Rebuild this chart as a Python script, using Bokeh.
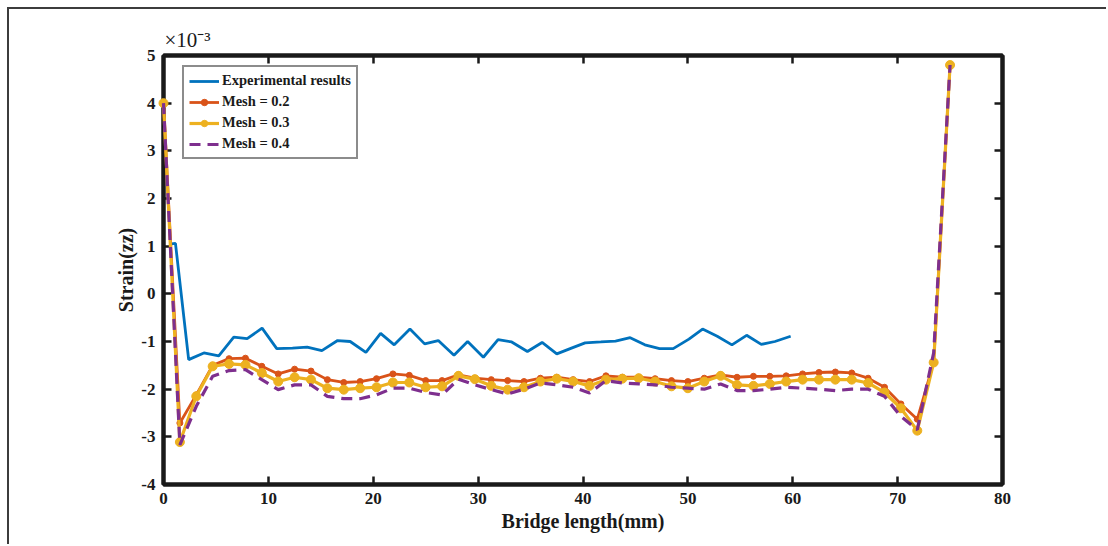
from bokeh.plotting import figure
from bokeh.models import (Range1d, LinearAxis, Legend, LegendItem,
                          SingleIntervalTicker, PrintfTickFormatter,
                          CustomJSTickFormatter)
from bokeh.embed import file_html
from bokeh.resources import INLINE

# ---- data (strain in units of 1e-3) ----
exp_x = [0.75, 1.14, 2.4, 3.85, 5.27, 6.7, 7.98, 9.4, 10.8, 12.3, 13.7,
         15.1, 16.6, 17.8, 19.3, 20.7, 22.0, 23.5, 24.9, 26.2, 27.7,
         29.0, 30.5, 31.9, 33.2, 34.7, 36.1, 37.5, 38.9, 40.2, 41.7,
         43.1, 44.5, 45.9, 47.3, 48.6, 50.1, 51.4, 52.8, 54.2, 55.6,
         57.0, 58.3, 59.8]
exp_y = [1.05, 1.06, -1.38, -1.24, -1.30, -0.91, -0.94, -0.72, -1.15, -1.14, -1.12,
         -1.19, -0.98, -1.00, -1.23, -0.83, -1.07, -0.74, -1.05, -0.98, -1.29,
         -1.00, -1.33, -0.96, -1.01, -1.21, -1.02, -1.26, -1.14, -1.03, -1.01,
         -0.99, -0.92, -1.07, -1.15, -1.15, -0.95, -0.74, -0.89, -1.07, -0.87,
         -1.06, -1.00, -0.89]

mesh_x = [0.0, 1.5625, 3.125, 4.6875, 6.25, 7.8125, 9.375, 10.9375, 12.5,
          14.0625, 15.625, 17.1875, 18.75, 20.3125, 21.875, 23.4375, 25.0,
          26.5625, 28.125, 29.6875, 31.25, 32.8125, 34.375, 35.9375, 37.5,
          39.0625, 40.625, 42.1875, 43.75, 45.3125, 46.875, 48.4375, 50.0,
          51.5625, 53.125, 54.6875, 56.25, 57.8125, 59.375, 60.9375, 62.5,
          64.0625, 65.625, 67.1875, 68.75, 70.3125, 71.875, 73.4375, 75.0]

mesh02_y = [4.00, -2.71, -2.12, -1.50, -1.36, -1.35, -1.52, -1.68, -1.58,
            -1.62, -1.80, -1.86, -1.84, -1.78, -1.68, -1.71, -1.82,
            -1.82, -1.70, -1.77, -1.80, -1.82, -1.84, -1.77, -1.75,
            -1.80, -1.84, -1.72, -1.75, -1.75, -1.78, -1.82, -1.84,
            -1.77, -1.70, -1.75, -1.73, -1.73, -1.72, -1.68, -1.65,
            -1.64, -1.66, -1.77, -1.96, -2.31, -2.63, -1.44, 4.80]

mesh03_y = [4.00, -3.11, -2.15, -1.52, -1.47, -1.49, -1.66, -1.84, -1.75,
            -1.80, -1.98, -2.01, -1.98, -1.96, -1.86, -1.86, -1.96,
            -1.94, -1.72, -1.79, -1.93, -2.01, -1.96, -1.84, -1.78,
            -1.84, -1.93, -1.80, -1.78, -1.77, -1.84, -1.94, -1.98,
            -1.84, -1.72, -1.91, -1.93, -1.89, -1.84, -1.80, -1.80,
            -1.80, -1.80, -1.87, -2.07, -2.40, -2.87, -1.44, 4.80]

mesh04_y = [4.00, -3.17, -2.36, -1.73, -1.61, -1.59, -1.80, -2.01, -1.91,
            -1.91, -2.15, -2.20, -2.20, -2.12, -1.98, -1.98, -2.07,
            -2.12, -1.79, -1.91, -2.01, -2.10, -2.00, -1.87, -1.91,
            -1.96, -2.08, -1.82, -1.87, -1.89, -1.91, -1.96, -1.98,
            -2.00, -1.89, -2.03, -2.03, -2.00, -1.96, -1.98, -2.00,
            -2.03, -2.00, -2.00, -2.15, -2.57, -2.85, -1.24, 4.80]

series_names = ["Experimental results", "Mesh = 0.2", "Mesh = 0.3", "Mesh = 0.4"]

FONT = "Liberation Serif"
INK = "#1a1a1a"
BLUE, ORANGE, YELLOW, PURPLE = "#0072BD", "#D95319", "#EDB120", "#7E2F8E"

p = figure(width=1099, height=537,
           x_range=Range1d(0, 80), y_range=Range1d(-4, 5),
           output_backend="svg", toolbar_location=None,
           min_border_left=154, min_border_right=106,
           min_border_top=46, min_border_bottom=62)
p.margin = (7, 0, 0, 7)
p.styles = {"border-top": "2px solid #3c3c3c", "border-left": "2px solid #3c3c3c"}

p.grid.visible = False
p.outline_line_color = INK
p.outline_line_width = 4
p.outline_line_alpha = 1.0
p.background_fill_color = "white"
p.border_fill_color = "white"

# y-axis multiplier shown at the top-left corner
p.title.text = "×10⁻³"
p.title.align = "left"
p.title.offset = 1
p.title.standoff = 0
p.title.text_font = FONT
p.title.text_font_style = "normal"
p.title.text_font_size = "21px"
p.title.text_color = INK

p.xaxis.ticker = SingleIntervalTicker(interval=10)
p.yaxis.ticker = SingleIntervalTicker(interval=1)
p.xaxis.formatter = PrintfTickFormatter(format="%d")
p.yaxis.formatter = PrintfTickFormatter(format="%d")

for ax in (p.xaxis[0], p.yaxis[0]):
    ax.major_tick_in = 8
    ax.major_tick_out = 0
    ax.minor_tick_line_color = None
    ax.major_tick_line_width = 2.5
    ax.major_tick_line_color = INK
    ax.axis_line_color = INK
    ax.axis_line_width = 4
    ax.major_label_text_font = FONT
    ax.major_label_text_font_style = "bold"
    ax.major_label_text_font_size = "17px"
    ax.major_label_text_color = INK
    ax.axis_label_text_font = FONT
    ax.axis_label_text_font_style = "bold"
    ax.axis_label_text_font_size = "20px"
    ax.axis_label_text_color = INK

p.xaxis.axis_label = "Bridge length(mm)"
p.yaxis.axis_label = "Strain(zz)"
p.xaxis.major_label_standoff = 4
p.xaxis.axis_label_standoff = 3
p.yaxis.major_label_standoff = 4
p.yaxis.axis_label_standoff = 1

# mirrored tick marks on the top and right edges (no labels)
def mirror_axis(interval):
    return LinearAxis(ticker=SingleIntervalTicker(interval=interval),
                      formatter=CustomJSTickFormatter(code="return ''"),
                      major_label_standoff=0,
                      major_tick_in=8, major_tick_out=0, minor_tick_line_color=None,
                      major_tick_line_width=2.5, major_tick_line_color=INK,
                      axis_line_color=INK, axis_line_width=4)

p.add_layout(mirror_axis(10), "above")
p.add_layout(mirror_axis(1), "right")

# series, drawn over the axes box
r_exp = p.line(exp_x, exp_y, line_color=BLUE, line_width=2.8, level="overlay")
r_m2 = p.line(mesh_x, mesh02_y, line_color=ORANGE, line_width=2.8, level="overlay")
r_m2s = p.scatter(mesh_x, mesh02_y, size=6, fill_color=ORANGE, line_color=ORANGE,
                  level="overlay")
r_m3 = p.line(mesh_x, mesh03_y, line_color=YELLOW, line_width=3.2, level="overlay")
r_m3s = p.scatter(mesh_x, mesh03_y, size=9, fill_color=YELLOW, line_color=YELLOW,
                  level="overlay")
r_m4 = p.line(mesh_x, mesh04_y, line_color=PURPLE, line_width=3.2, line_dash="11 7",
              level="overlay")

legend = Legend(items=[
    LegendItem(label=series_names[0], renderers=[r_exp]),
    LegendItem(label=series_names[1], renderers=[r_m2, r_m2s]),
    LegendItem(label=series_names[2], renderers=[r_m3, r_m3s]),
    LegendItem(label=series_names[3], renderers=[r_m4]),
], location=(19, 325))
legend.label_text_font = FONT
legend.label_text_font_style = "bold"
legend.label_text_font_size = "14.5px"
legend.label_text_color = INK
legend.border_line_color = INK
legend.border_line_width = 2.5
legend.background_fill_alpha = 1
legend.margin = 0
legend.padding = 5
legend.spacing = 4
legend.label_height = 16
legend.glyph_height = 16
legend.glyph_width = 30
legend.label_standoff = 3
p.add_layout(legend)

open("out.html", "w").write(file_html(p, INLINE))
